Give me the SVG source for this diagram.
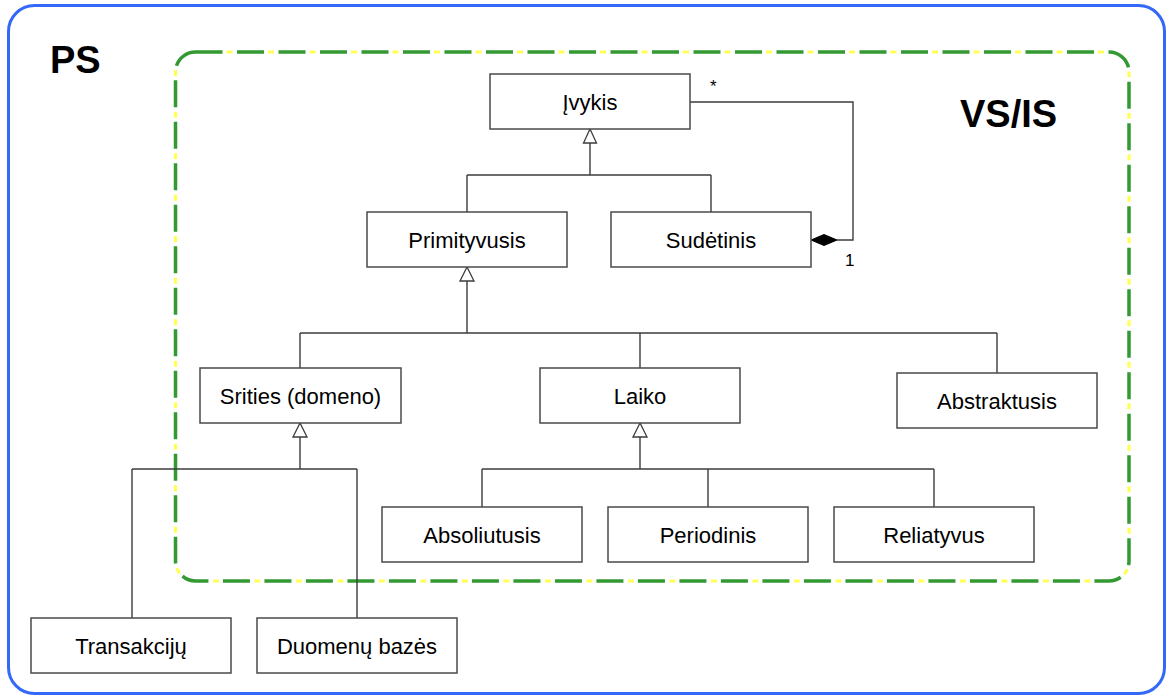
<svg xmlns="http://www.w3.org/2000/svg" width="1170" height="698" viewBox="0 0 1170 698">
  <defs>
    <style>
      .box { fill: #ffffff; stroke: #4a4a4a; stroke-width: 1.5; }
      .lbl { font-family: "Liberation Sans", Arial, sans-serif; font-size: 22px; fill: #000; text-anchor: middle; }
      .title { font-family: "Liberation Sans", Arial, sans-serif; font-size: 38px; font-weight: bold; fill: #000; }
      .mult { font-family: "Liberation Sans", Arial, sans-serif; font-size: 17px; fill: #000; }
      .wire { fill: none; stroke: #3c3c3c; stroke-width: 1.4; }
      .gen { fill: #ffffff; stroke: #3c3c3c; stroke-width: 1.3; }
      .comp { fill: #000000; stroke: #000000; stroke-width: 1; }
    </style>
  </defs>

  <!-- outer system boundary (PS) -->
  <rect id="ps-boundary" x="8.5" y="5.5" width="1156" height="688" rx="26" fill="#ffffff" stroke="#3468f8" stroke-width="3"/>
  <text class="title" x="50" y="73">PS</text>

  <!-- inner boundary (VS/IS): yellow dots sitting in the gaps of a green dashed line -->
  <g id="vsis-boundary">
    <rect x="175.5" y="52" width="953.5" height="529" rx="20" fill="none" stroke="#ffff55" stroke-width="3.2" stroke-dasharray="6 35.5" stroke-dashoffset="10.5"/>
    <rect x="175.5" y="52" width="953.5" height="529" rx="20" fill="none" stroke="#339933" stroke-width="3.5" stroke-dasharray="27 14.5"/>
    <text class="title" x="960" y="127">VS/IS</text>
  </g>

  <!-- connectors -->
  <g id="connectors">
    <!-- Įvykis generalization -->
    <path class="wire" d="M590 143 V175 M467 175 H711 M467 175 V212 M711 175 V212"/>
    <polygon class="gen" points="590,129 583.5,143 596.5,143"/>
    <!-- Primityvusis generalization -->
    <path class="wire" d="M467 281 V333 M300 333 H997 M300 333 V368 M640 333 V368 M997 333 V373"/>
    <polygon class="gen" points="467,267 460,281 474,281"/>
    <!-- Srities (domeno) generalization -->
    <path class="wire" d="M300 437 V469 M132 469 H357 M132 469 V618 M357 469 V618"/>
    <polygon class="gen" points="300,423 293,437 307,437"/>
    <!-- Laiko generalization -->
    <path class="wire" d="M640 437 V469 M482 469 H934 M482 469 V507 M708 469 V507 M934 469 V507"/>
    <polygon class="gen" points="640,423 633,437 647,437"/>
    <!-- composition Sudėtinis ◆— Įvykis -->
    <path class="wire" d="M690 102 H853 V240 H837"/>
    <polygon class="comp" points="811,240 824,234.5 837,240 824,245.5"/>
    <text class="mult" x="710" y="92">*</text>
    <text class="mult" x="845" y="266">1</text>
  </g>

  <!-- nodes -->
  <g id="ivykis"><rect class="box" x="490" y="74" width="200" height="55"/><text class="lbl" x="590" y="109.5">Įvykis</text></g>
  <g id="primityvusis"><rect class="box" x="367" y="212" width="200" height="55"/><text class="lbl" x="467" y="247.5">Primityvusis</text></g>
  <g id="sudetinis"><rect class="box" x="611" y="212" width="200" height="55"/><text class="lbl" x="711" y="247.5">Sudėtinis</text></g>
  <g id="srities"><rect class="box" x="200" y="368" width="201" height="55"/><text class="lbl" x="300.5" y="403.5">Srities (domeno)</text></g>
  <g id="laiko"><rect class="box" x="540" y="368" width="200" height="55"/><text class="lbl" x="640" y="403.5">Laiko</text></g>
  <g id="abstraktusis"><rect class="box" x="897" y="373" width="200" height="55"/><text class="lbl" x="997" y="408.5">Abstraktusis</text></g>
  <g id="absoliutusis"><rect class="box" x="382" y="507" width="200" height="55"/><text class="lbl" x="482" y="542.5">Absoliutusis</text></g>
  <g id="periodinis"><rect class="box" x="608" y="507" width="200" height="55"/><text class="lbl" x="708" y="542.5">Periodinis</text></g>
  <g id="reliatyvus"><rect class="box" x="834" y="507" width="200" height="55"/><text class="lbl" x="934" y="542.5">Reliatyvus</text></g>
  <g id="transakciju"><rect class="box" x="31" y="618" width="200" height="55"/><text class="lbl" x="131" y="653.5">Transakcijų</text></g>
  <g id="duomenu-bazes"><rect class="box" x="257" y="618" width="200" height="55"/><text class="lbl" x="357" y="653.5">Duomenų bazės</text></g>
</svg>
